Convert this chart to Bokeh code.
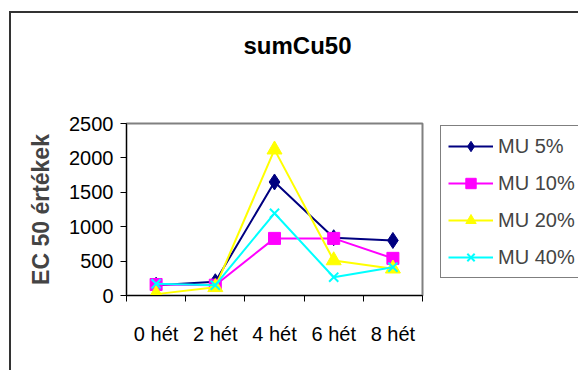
from bokeh.plotting import figure
from bokeh.models import (Range1d, FixedTicker, Legend, LegendItem, Title)
from bokeh.embed import file_html
from bokeh.resources import INLINE

# ---- data ----
weeks = ["0 hét", "2 hét", "4 hét", "6 hét", "8 hét"]
series_names = ["MU 5%", "MU 10%", "MU 20%", "MU 40%"]
mu5 = [150, 200, 1650, 840, 800]
mu10 = [160, 150, 830, 830, 540]
mu20 = [20, 120, 2120, 510, 390]
mu40 = [170, 150, 1195, 266, 411]
y_ticks = [0, 500, 1000, 1500, 2000, 2500]
title_text = "sumCu50"
y_title = "EC 50 értékek"

FONT = "Liberation Sans"

xs = [i + 0.5 for i in range(len(weeks))]

p = figure(
    frame_width=296, frame_height=172,
    min_border_left=115, min_border_right=156,
    min_border_top=110, min_border_bottom=75,
    x_range=Range1d(0, len(weeks)), y_range=Range1d(0, 2500),
    output_backend="svg", toolbar_location=None,
    background_fill_color="white", border_fill_color="white",
)
p.margin = (11, 0, 0, 9)
p.styles = {"border-left": "2px solid #333333", "border-top": "2px solid #333333"}

# real title (outermost panel)
p.title.text = title_text
p.title.align = "left"
p.title.vertical_align = "bottom"
p.title.offset = 117
p.title.standoff = 0
p.title.text_font = FONT
p.title.text_font_size = "24px"
p.title.text_font_style = "bold"
p.title.text_color = "black"

# spacer panel between the title and the frame
spacer = Title(text=" ", text_font_size="1px", standoff=62)
p.add_layout(spacer, "above")

p.xgrid.visible = False
p.ygrid.visible = False
p.outline_line_color = "#808080"
p.outline_line_width = 2
p.outline_line_alpha = 1

# y axis
p.yaxis.ticker = FixedTicker(ticks=y_ticks)
p.yaxis.major_tick_out = 6
p.yaxis.major_tick_in = 0
p.yaxis.minor_tick_out = 0
p.yaxis.minor_tick_in = 0
p.yaxis.major_label_standoff = 7
p.yaxis.major_label_text_font = FONT
p.yaxis.major_label_text_font_size = "20px"
p.yaxis.major_label_text_color = "black"
p.yaxis.axis_label = y_title
p.yaxis.axis_label_text_font = FONT
p.yaxis.axis_label_text_font_size = "23px"
p.yaxis.axis_label_text_font_style = "bold"
p.yaxis.axis_label_standoff = 12
p.yaxis.axis_line_color = "black"
p.yaxis.major_tick_line_color = "black"

# x axis: labels at category centres, ticks at category boundaries
p.xaxis.ticker = FixedTicker(ticks=xs, minor_ticks=list(range(len(weeks) + 1)))
p.xaxis.major_label_overrides = {x: w for x, w in zip(xs, weeks)}
p.xaxis.major_tick_out = 0
p.xaxis.major_tick_in = 0
p.xaxis.minor_tick_out = 6
p.xaxis.minor_tick_in = 0
p.xaxis.minor_tick_line_color = "black"
p.xaxis.major_label_standoff = 21
p.xaxis.major_label_text_font = FONT
p.xaxis.major_label_text_font_size = "20px"
p.xaxis.major_label_text_color = "black"
p.xaxis.axis_line_color = "black"

styles = [
    (mu5, "#000080", "diamond", 16),
    (mu10, "#FF00FF", "square", 12),
    (mu20, "#FFFF00", "triangle", 15),
    (mu40, "#00FFFF", "x", 13),
]

items = []
for name, (vals, color, marker, size) in zip(series_names, styles):
    ln = p.line(xs, vals, line_color=color, line_width=2)
    sc = p.scatter(xs, vals, marker=marker, size=size, fill_color=color,
                   line_color=color, line_width=2 if marker == "x" else 1)
    items.append(LegendItem(label=name, renderers=[ln, sc]))

legend = Legend(items=items, location=(18, 17))
legend.label_text_font = FONT
legend.label_text_font_size = "20px"
legend.glyph_width = 45
legend.glyph_height = 26
legend.label_height = 26
legend.spacing = 11
legend.padding = 7
legend.margin = 0
legend.label_standoff = 5
legend.border_line_color = "black"
legend.border_line_width = 1
legend.background_fill_color = "white"
p.add_layout(legend, "right")

open("out.html", "w").write(file_html(p, INLINE))
